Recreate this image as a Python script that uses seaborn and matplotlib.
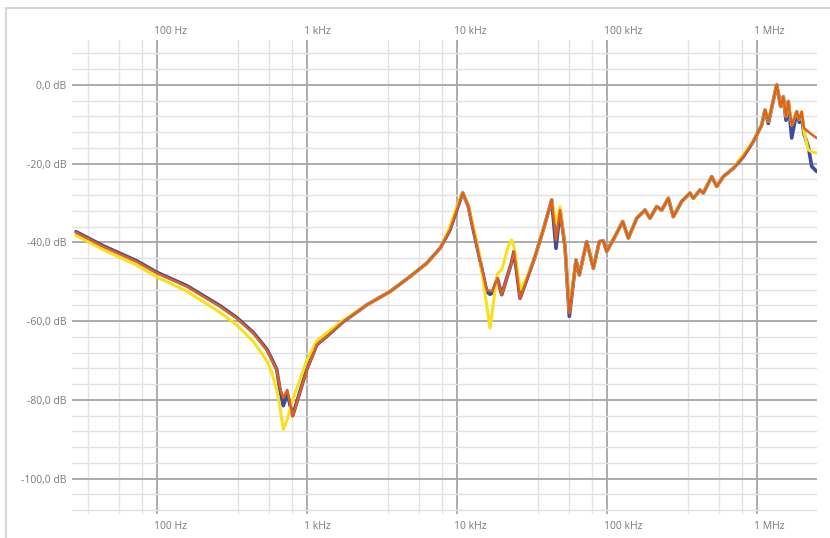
import pandas as pd
import matplotlib.pyplot as plt
import matplotlib.patches as mpatches
from matplotlib.transforms import ScaledTranslation
import seaborn as sns

# --- data (frequency in Hz, level in dB) ---
freq_hz = [29, 44.1, 73.6, 100, 158.5, 264.2, 341.5, 440.5, 541.2, 584.5,
           631, 663.7, 698, 742.5, 806.6, 879, 1000, 1166, 1359.5, 1754,
           2512, 3593, 4882, 6310, 7740, 9024, 10000, 10965, 11950, 12906,
           14300, 15849, 16672, 17330, 18650, 19953, 22080, 23260, 24100, 26420,
           29290, 33270, 37780, 42990, 45920, 48840, 52720, 56320, 62410, 65660,
           73560, 81430, 89270, 94910, 100000, 113600, 127900, 139300, 158500, 180000,
           194400, 215400, 232600, 257500, 278000, 316200, 359200, 377900, 418800, 440500,
           501200, 541200, 598800, 698300, 814300, 949100, 1079700, 1136000, 1195000, 1279000,
           1359000, 1445400, 1504000, 1568000, 1624200, 1711300, 1847800, 1923000, 1995300, 2067000,
           2208000, 2326000, 2512000]

blue_db = [-37.3, -40.9, -44.7, -47.6, -51.0, -56.1, -59.1, -62.9, -67.1, -69.6,
           -72.3, -77.5, -81.5, -78.5, -84.0, -79.3, -72.3, -66.0, -63.9, -60.1,
           -55.9, -52.5, -48.7, -45.3, -41.5, -36.8, -31.8, -27.4, -30.9, -36.8,
           -44.5, -52.5, -53.2, -52.8, -49.1, -53.3, -47.8, -45.0, -42.3, -54.2,
           -49.5, -43.6, -36.8, -29.2, -41.5, -31.8, -41.1, -58.8, -44.5, -48.3,
           -39.8, -46.6, -39.8, -39.6, -42.3, -38.5, -34.7, -38.9, -33.9, -31.8,
           -33.9, -30.9, -31.8, -28.8, -33.5, -29.6, -27.5, -28.8, -26.7, -27.5,
           -23.3, -25.8, -23.3, -21.2, -18.2, -14.4, -10.2, -6.4, -9.8, -4.6,
           0.0, -5.5, -3.0, -9.0, -4.2, -13.5, -6.8, -9.5, -8.0, -12.5,
           -15.7, -20.7, -22.0]

yellow_db = [-38.2, -41.9, -45.8, -48.8, -52.4, -57.8, -61.0, -65.2, -70.0, -73.0,
             -77.5, -82.0, -87.5, -85.0, -80.0, -76.0, -70.0, -65.0, -63.0, -59.8,
             -55.9, -52.5, -48.7, -45.3, -41.5, -36.0, -31.0, -27.4, -30.9, -36.0,
             -44.0, -56.0, -61.8, -57.0, -48.0, -47.0, -41.0, -39.4, -41.0, -52.0,
             -49.0, -43.6, -36.8, -29.2, -35.0, -31.0, -41.1, -57.5, -44.5, -48.3,
             -39.8, -46.6, -39.8, -39.6, -42.3, -38.5, -34.7, -38.9, -33.9, -31.8,
             -33.9, -30.9, -31.8, -28.8, -33.5, -29.6, -27.5, -28.8, -26.7, -27.5,
             -23.3, -25.8, -23.3, -21.2, -17.6, -14.4, -10.2, -6.4, -9.3, -4.6,
             0.0, -5.5, -3.0, -8.1, -4.2, -10.2, -6.8, -8.8, -6.8, -12.0,
             -16.5, -17.0, -17.3]

orange_db = [-37.5, -41.1, -44.9, -47.8, -51.2, -56.3, -59.3, -63.1, -67.3, -69.8,
             -72.5, -77.0, -79.5, -77.5, -84.2, -79.5, -72.5, -66.0, -63.9, -60.1,
             -55.9, -52.5, -48.7, -45.3, -41.5, -36.8, -31.8, -27.4, -30.9, -36.8,
             -44.5, -52.1, -52.3, -52.4, -49.1, -53.3, -47.8, -45.0, -42.3, -54.2,
             -49.5, -43.6, -36.8, -29.2, -39.4, -31.8, -41.1, -58.0, -44.5, -48.3,
             -39.8, -46.6, -39.8, -39.6, -42.3, -38.5, -34.7, -38.9, -33.9, -31.8,
             -33.9, -30.9, -31.8, -28.8, -33.5, -29.6, -27.5, -28.8, -26.7, -27.5,
             -23.3, -25.8, -23.3, -21.2, -18.2, -14.4, -10.2, -6.4, -9.3, -4.6,
             0.0, -5.5, -3.0, -8.1, -4.2, -10.2, -6.8, -8.8, -6.8, -11.0,
             -11.9, -12.6, -13.5]

x_major = [100, 1000, 10000, 100000, 1000000]
x_labels = ["100 Hz", "1 kHz", "10 kHz", "100 kHz", "1 MHz"]
x_minor = [35, 56, 80, 350, 560, 800, 3500, 5600, 8000,
           35000, 56000, 80000, 350000, 560000, 800000]
y_major = [0, -20, -40, -60, -80, -100]
y_labels = ["0,0 dB", "-20,0 dB", "-40,0 dB", "-60,0 dB", "-80,0 dB", "-100,0 dB"]
y_minor = [v for v in range(-108, 12, 4) if v % 20 != 0]

df = pd.DataFrame({"freq": freq_hz, "blue": blue_db,
                   "yellow": yellow_db, "orange": orange_db})

sns.set_style("white")
plt.rcParams['font.family'] = ['Open Sans', 'DejaVu Sans']

fig = plt.figure(figsize=(8.3, 5.38), dpi=100)
ax = fig.add_axes([72 / 830, 1 - 514 / 538, 745 / 830, 474 / 538])

# light frame around the whole picture
fig.patches.append(mpatches.Rectangle((6 / 830, -0.1), 2, 1.1 - 8 / 538,
                                      transform=fig.transFigure, fill=False,
                                      edgecolor="#cfcfcf", linewidth=1.2))

# the three measured traces
sns.lineplot(data=df, x="freq", y="blue", ax=ax, color="#3c4c9e",
             linewidth=2.6, sort=False, estimator=None)
sns.lineplot(data=df, x="freq", y="yellow", ax=ax, color="#f6e21c",
             linewidth=2.2, sort=False, estimator=None)
sns.lineplot(data=df, x="freq", y="orange", ax=ax, color="#df5f1f",
             linewidth=1.8, sort=False, estimator=None)

ax.set_xscale("log")
ax.set_xlim(27.24, 2.523e6)
ax.set_ylim(-109.0, 11.4)

ax.set_xticks(x_major)
ax.set_xticklabels(x_labels, ha="left")
ax.set_xticks(x_minor, minor=True)
ax.set_yticks(y_major)
ax.set_yticklabels(y_labels)
ax.set_yticks(y_minor, minor=True)

ax.tick_params(axis="x", which="both", length=0, labeltop=True, labelbottom=True,
               pad=5, labelsize=7.5, labelcolor="#7a7a7a")
ax.tick_params(axis="y", which="both", length=0, pad=4,
               labelsize=7.5, labelcolor="#7a7a7a")

# nudge the frequency labels a little left, and the top row down
for tick in ax.xaxis.get_major_ticks():
    tick.label1.set_transform(tick.label1.get_transform()
                              + ScaledTranslation(-0.03, 0, fig.dpi_scale_trans))
    tick.label2.set_transform(tick.label2.get_transform()
                              + ScaledTranslation(-0.03, -0.04, fig.dpi_scale_trans))

ax.grid(which="major", color="#a6a6a6", linewidth=1.3)
ax.grid(which="minor", color="#e2e2e2", linewidth=1.0)
ax.set_axisbelow(True)

ax.set_xlabel("")
ax.set_ylabel("")
for s in ax.spines.values():
    s.set_visible(False)

plt.savefig("out.png", dpi=100)
